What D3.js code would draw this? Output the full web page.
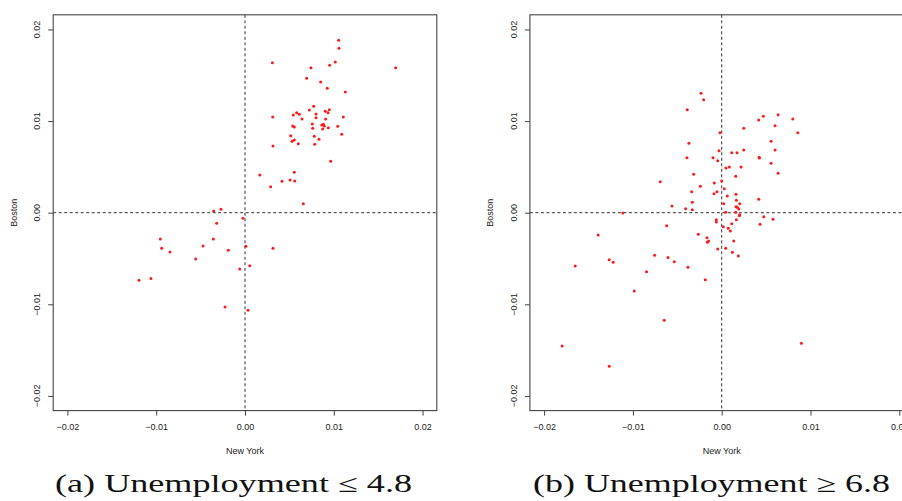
<!DOCTYPE html>
<html><head><meta charset="utf-8">
<script src="https://cdn.jsdelivr.net/npm/d3@7"></script>
<style>body{margin:0;background:#fff}svg{display:block}</style>
</head><body>
<svg id="c" width="902" height="501"></svg>
<script>
// Panel (a): Unemployment <= 4.8  (New York, Boston)
const nyA = [0.00308,0.01055,0.01059,0.01017,0.00953,0.00743,0.01697,0.00694,0.00852,0.00927,0.01130,
  0.00773,0.00724,0.00949,0.00904,0.00935,0.00582,0.00612,0.00544,0.00800,0.00312,0.01107,0.00642,0.00800,
  0.00909,0.00758,0.00864,0.00882,0.00893,0.00537,0.00555,0.00762,0.00875,0.00938,0.01044,0.01089,0.00515,
  0.00780,0.00833,0.00555,0.00530,0.00600,0.00785,0.00315,0.00965,0.00166,0.00555,0.00507,0.00417,0.00560,
  0.00289,0.00657,-0.00353,-0.00270,-0.00023,-0.00319,-0.00954,-0.00357,-0.00938,-0.00473,-0.00845,-0.00188,
  0.00011,0.00315,-0.00555,-0.00060,0.00053,-0.01194,-0.01059,-0.00225,0.00034];
const bosA = [0.01638,0.01882,0.01795,0.01645,0.01609,0.01583,0.01583,0.01467,0.01427,0.01358,0.01318,
  0.01161,0.01121,0.01124,0.01107,0.01092,0.01092,0.01074,0.01067,0.01078,0.01045,0.01045,0.01023,0.01037,
  0.01023,0.00968,0.00957,0.00965,0.00947,0.00947,0.00936,0.00921,0.00914,0.00928,0.00943,0.00856,0.00841,
  0.00834,0.00801,0.00794,0.00779,0.00753,0.00747,0.00728,0.00561,0.00412,0.00441,0.00357,0.00343,0.00346,
  0.00284,0.00098,0.00019,0.00037,-0.00061,-0.00116,-0.00287,-0.00287,-0.00389,-0.00364,-0.00429,-0.00411,
  -0.00367,-0.00389,-0.00505,-0.00615,-0.00579,-0.00738,-0.00717,-0.01029,-0.01066];

// Panel (b): Unemployment >= 6.8
const nyB = [-0.00233,-0.00203,-0.00388,0.00635,0.00469,0.00417,0.00800,0.00601,0.00248,-0.00019,0.00857,
  -0.00369,0.00556,-0.00030,0.00248,0.00601,0.00113,0.00172,-0.00391,-0.00098,0.00421,0.00424,-0.00045,
  0.00556,0.00048,0.00086,0.00218,-0.00316,0.00635,0.00158,-0.00692,0.00000,-0.00083,-0.00241,0.00029,
  -0.00338,-0.00053,-0.00087,0.00161,0.00063,0.00417,0.00165,-0.00331,0.00023,0.00203,-0.00560,0.00161,
  0.00176,0.00192,-0.00406,-0.00331,-0.01113,0.00045,0.00158,0.00203,0.00198,0.00474,-0.00061,0.00165,
  0.00578,-0.00061,0.00113,0.00432,-0.00620,0.00018,0.00074,0.00097,-0.00264,-0.01391,-0.00166,-0.00147,
  -0.00162,0.00135,-0.00045,0.00045,0.00120,-0.00755,0.00187,-0.00605,-0.01267,-0.01222,-0.00534,-0.01650,
  -0.00846,-0.00380,-0.00185,-0.00985,-0.00647,-0.01797,0.00897,-0.01267];
const bosB = [0.01303,0.01234,0.01124,0.01070,0.01052,0.01012,0.01023,0.00950,0.00921,0.00873,0.00873,
  0.00758,0.00779,0.00677,0.00685,0.00685,0.00655,0.00655,0.00600,0.00600,0.00605,0.00597,0.00568,
  0.00539,0.00488,0.00499,0.00499,0.00419,0.00430,0.00397,0.00338,0.00346,0.00324,0.00288,0.00262,
  0.00229,0.00229,0.00207,0.00201,0.00182,0.00146,0.00135,0.00114,0.00098,0.00098,0.00073,0.00066,
  0.00059,0.00040,0.00044,0.00033,-0.00003,0.00004,0.00004,-0.00022,-0.00033,-0.00044,-0.00076,-0.00076,
  -0.00072,-0.00102,-0.00120,-0.00127,-0.00142,-0.00153,-0.00170,-0.00200,-0.00236,-0.00243,-0.00273,-0.00309,
  -0.00323,-0.00309,-0.00396,-0.00389,-0.00432,-0.00465,-0.00473,-0.00489,-0.00513,-0.00541,-0.00535,-0.00582,
  -0.00644,-0.00596,-0.00731,-0.00855,-0.01175,-0.01455,-0.01426,-0.01677];

const tickVals = [-0.02, -0.01, 0.00, 0.01, 0.02];
const xTitle = "New York";
const yTitle = "Boston";
const captions = ["(a) Unemployment \u2264 4.8", "(b) Unemployment \u2265 6.8"];

const svg = d3.select("#c");
const lim = 0.0216;
const fmt = d3.format(".2f");
const tickFont = "Liberation Sans, Arial, sans-serif";

function panel(cx, labX, titleX, nx, by, caption, capX) {
  const x = d3.scaleLinear().domain([-lim, lim]).range([cx - 191.8, cx + 191.8]);
  const y = d3.scaleLinear().domain([-lim, lim]).range([410.6, 14.8]);
  const g = svg.append("g");

  // x axis
  const ax = g.append("g").attr("transform", "translate(0,410.6)")
    .call(d3.axisBottom(x).tickValues(tickVals).tickSize(5).tickSizeOuter(0).tickPadding(8).tickFormat(fmt));
  ax.select(".domain").remove();
  ax.selectAll("line").attr("stroke", "#444");
  ax.selectAll("text").attr("font-family", tickFont).attr("font-size", 9).attr("fill", "#222");

  // y axis
  const ay = g.append("g").attr("transform", `translate(${x.range()[0]},0)`)
    .call(d3.axisLeft(y).tickValues(tickVals).tickSize(5).tickSizeOuter(0).tickFormat(fmt));
  ay.select(".domain").remove();
  ay.selectAll("line").attr("stroke", "#444");
  ay.selectAll("text").remove();
  g.selectAll(".ylab").data(tickVals).enter().append("text")
    .attr("transform", d => `translate(${labX},${y(d)}) rotate(-90)`)
    .attr("text-anchor", "middle")
    .attr("font-family", tickFont).attr("font-size", 9).attr("fill", "#222")
    .text(fmt);

  // zero reference lines
  g.append("line").attr("x1", x(0)).attr("x2", x(0)).attr("y1", y(lim)).attr("y2", y(-lim))
    .attr("stroke", "#333").attr("stroke-dasharray", "3,2.5");
  g.append("line").attr("x1", x(-lim)).attr("x2", x(lim)).attr("y1", y(0)).attr("y2", y(0))
    .attr("stroke", "#333").attr("stroke-dasharray", "3,2.5");

  // box
  g.append("rect").attr("x", x(-lim)).attr("y", y(lim))
    .attr("width", x(lim) - x(-lim)).attr("height", y(-lim) - y(lim))
    .attr("fill", "none").attr("stroke", "#444").attr("stroke-width", 1.1);

  // points
  g.selectAll(".pt").data(nx.map((v, i) => [v, by[i]])).enter().append("circle")
    .attr("cx", d => x(d[0])).attr("cy", d => y(d[1])).attr("r", 1.5).attr("fill", "#ff1a1a");

  // axis titles
  g.append("text").attr("x", cx).attr("y", 454).attr("text-anchor", "middle")
    .attr("font-family", tickFont).attr("font-size", 9).attr("fill", "#222").text(xTitle);
  g.append("text").attr("transform", `translate(${titleX},${y(0)}) rotate(-90)`).attr("text-anchor", "middle")
    .attr("font-family", tickFont).attr("font-size", 9).attr("fill", "#222").text(yTitle);

  // caption
  svg.append("text").attr("x", capX).attr("y", 492).attr("font-family", "Liberation Serif, DejaVu Serif, serif")
    .attr("font-size", 25).attr("fill", "#111").attr("textLength", 357).attr("lengthAdjust", "spacingAndGlyphs")
    .text(caption);
}

panel(245, 40, 16.5, nyA, bosA, captions[0], 55);
panel(721.7, 516.5, 492.5, nyB, bosB, captions[1], 533);
</script>
</body></html>
